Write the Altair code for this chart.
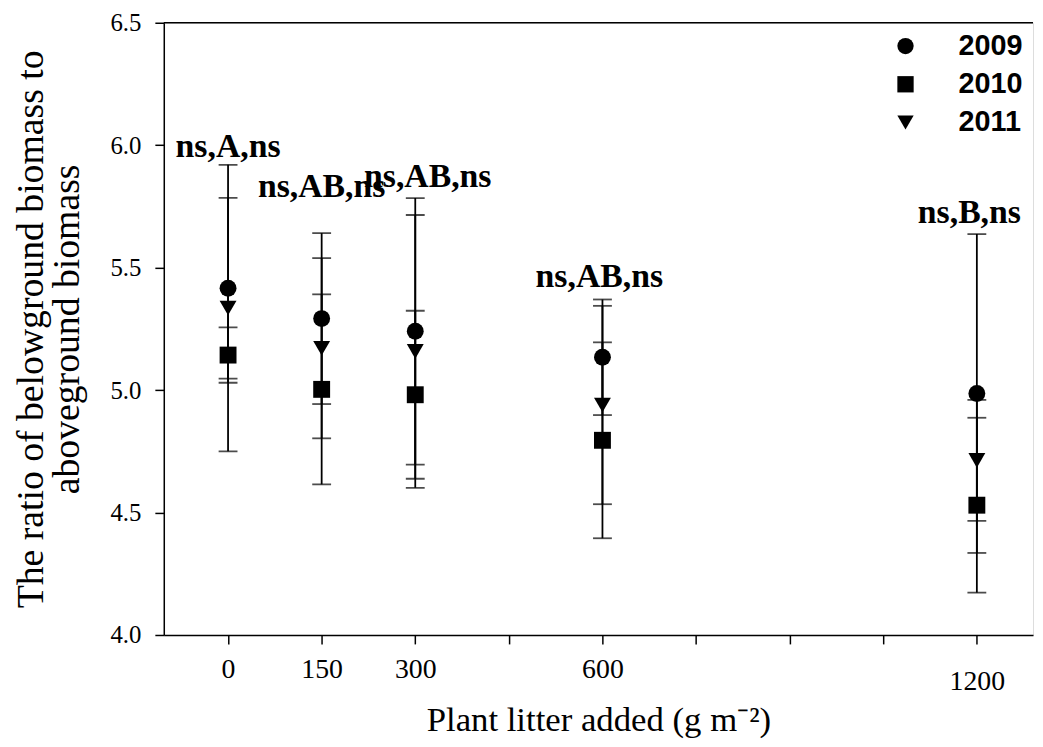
import altair as alt
import pandas as pd

# ---- data ----
litter = [0, 150, 300, 600, 1200]
years = ["2009", "2010", "2011"]
mean_2009 = [5.416, 5.292, 5.240, 5.134, 4.986]
se_2009 = [0.369, 0.349, 0.544, 0.236, 0.651]
mean_2010 = [5.143, 5.003, 4.981, 4.795, 4.530]
se_2010 = [0.113, 0.388, 0.343, 0.400, 0.357]
mean_2011 = [5.335, 5.171, 5.158, 4.939, 4.713]
se_2011 = [0.585, 0.368, 0.557, 0.405, 0.247]

ann_x = [0, 150, 320, 595, 1188]
ann_y = [5.992, 5.83, 5.87, 5.46, 5.722]
ann_text = ["ns,A,ns", "ns,AB,ns", "ns,AB,ns", "ns,AB,ns", "ns,B,ns"]

x_ticks = [0, 150, 300, 450, 600, 750, 900, 1050, 1200]
y_ticks = [4.0, 4.5, 5.0, 5.5, 6.0, 6.5]

rows = []
for yr, m, s in zip(years, [mean_2009, mean_2010, mean_2011], [se_2009, se_2010, se_2011]):
    for xv, mv, sv in zip(litter, m, s):
        rows.append({"x": xv, "year": yr, "mean": mv, "lo": mv - sv, "hi": mv + sv})
df = pd.DataFrame(rows)
caps = pd.concat([
    df[["x", "year", "lo"]].rename(columns={"lo": "v"}),
    df[["x", "year", "hi"]].rename(columns={"hi": "v"}),
])
ann = pd.DataFrame({"x": ann_x, "y": ann_y, "t": ann_text})

W, H = 876, 617
xscale = alt.Scale(domain=[-103, 1290], nice=False, zero=False)
yscale = alt.Scale(domain=[4.0, 6.5], nice=False, zero=False)

label_expr = ("indexof([0,150,300,600], datum.value) >= 0 ? datum.label : "
              "(datum.value == 1200 ? ['', '1200'] : '')")

xaxis = alt.Axis(
    values=x_ticks, labelExpr=label_expr, grid=False, tickSize=9, tickWidth=1.5,
    domainWidth=1.5, domainColor="black", tickColor="black",
    labelFont="Liberation Serif", labelFontSize=28, labelColor="black", labelPadding=12,
    labelLineHeight=12, labelFlush=False,
    title="Plant litter added (g m\u207b\u00b2)", titleFont="Liberation Serif",
    titleFontSize=35, titleFontWeight="normal", titleColor="black", titlePadding=7,
)
yaxis = alt.Axis(
    values=y_ticks, format=".1f", grid=False, tickSize=9, tickWidth=1.5,
    domainWidth=1.5, domainColor="black", tickColor="black",
    labelFont="Liberation Serif", labelFontSize=25, labelColor="black", labelPadding=14,
    title=["The ratio of belowground biomass to", "aboveground biomass"],
    titleFont="Liberation Serif", titleFontSize=38, titleFontWeight="normal",
    titleColor="black", titlePadding=24, titleLineHeight=36,
)

base = alt.Chart(df)

bars = base.mark_rule(color="black", strokeWidth=1.8).encode(
    x=alt.X("x:Q", scale=xscale, axis=xaxis),
    y=alt.Y("lo:Q", scale=yscale, axis=yaxis),
    y2="hi:Q",
)
capmarks = alt.Chart(caps).mark_tick(
    color="black", orient="horizontal", size=19, thickness=1.8
).encode(x="x:Q", y="v:Q")

shape_scale = alt.Scale(domain=years, range=["circle", "square", "triangle-down"])
points = base.mark_point(filled=True, color="black", size=290, opacity=1).encode(
    x="x:Q",
    y="mean:Q",
    shape=alt.Shape("year:N", scale=shape_scale, legend=alt.Legend(
        title=None, orient="none", legendX=733, legendY=9,
        labelFont="Liberation Sans", labelFontSize=29, labelFontWeight="bold",
        labelColor="black", symbolSize=270, symbolFillColor="black",
        symbolStrokeColor="black", symbolStrokeWidth=0, labelOffset=39,
        rowPadding=8.5, labelLimit=200,
    )),
)

texts = alt.Chart(ann).mark_text(
    font="Liberation Serif", fontSize=34, fontWeight="bold", color="black",
    baseline="middle", align="center",
).encode(x="x:Q", y="y:Q", text="t:N")

topline = alt.Chart(pd.DataFrame({"y": [6.5]})).mark_rule(
    color="black", strokeWidth=1.5
).encode(y="y:Q", x=alt.value(0), x2=alt.value(W))

chart = alt.layer(bars, capmarks, points, texts, topline).properties(
    width=W, height=H,
    autosize=alt.AutoSizeParams(type="none"),
    padding={"left": 157, "top": 12, "right": 2, "bottom": 108},
).configure_view(stroke=None).configure(background="white")

chart.save("out.html", embed_options={"renderer": "svg", "actions": False})
